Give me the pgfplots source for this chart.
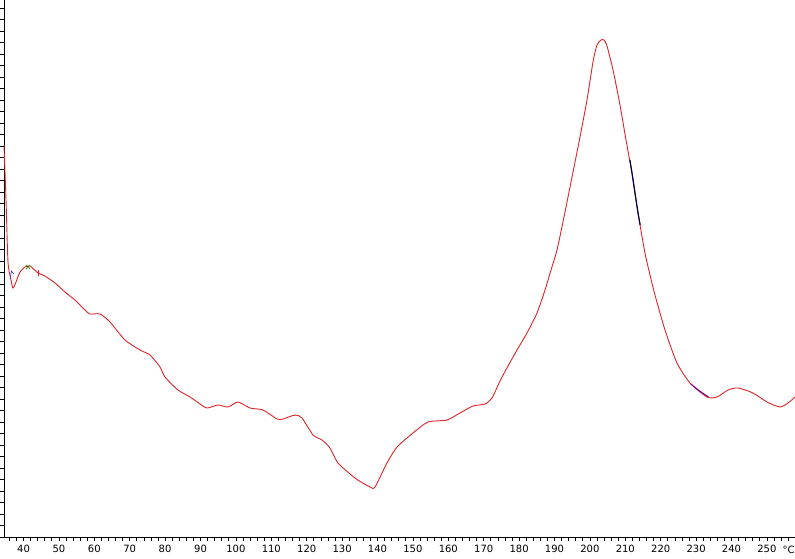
\documentclass[border=0pt]{standalone}
\usepackage{pgfplots}
\pgfplotsset{compat=1.18}
\usepackage{fontspec}
\setmainfont{DejaVu Sans}
\definecolor{curvered}{RGB}{225,35,40}
\begin{document}
\begin{tikzpicture}
\begin{axis}[
  scale only axis,
  width=791pt, height=537pt,
  xmin=34.49, xmax=257.94,
  ymin=0, ymax=537,
  axis x line=bottom, axis y line=left,
  axis line style={-, black, line width=0.8pt},
  xtick distance=10, minor x tick num=4,
  ytick distance=11.5, yticklabels={},
  tick align=outside,
  major tick length=4pt, minor tick length=4pt,
  tick style={black, line width=0.7pt},
  every tick/.style={black, line width=0.7pt},
  /pgf/number format/assume math mode=true,
  xticklabel style={font=\fontsize{10}{12}\selectfont, yshift=-0.5pt},
  clip=false,
]
\addplot[curvered, line width=0.9pt, smooth, tension=0.4] coordinates {
(34.49,392) (35.06,337) (35.62,275) (36.47,257) (37.03,249) (37.88,255) (39.01,265)
(40.42,270) (41.84,271) (44.10,264) (46.07,261) (48.90,254) (51.72,245) (54.55,237)
(57.37,227) (58.79,223) (61.61,223) (64.43,215) (68.67,197) (72.91,187) (75.73,182)
(78.56,170) (79.97,160) (83.64,147) (87.03,140) (89.86,133) (91.84,129) (94.94,132)
(97.77,130) (100.59,135) (103.98,129) (107.65,127) (111.61,118) (113.31,118) (116.70,122)
(118.67,119) (121.79,102) (124.32,97) (126.58,89) (128.84,74) (133.64,59) (137.88,50)
(139.29,50) (142.68,74) (145.51,90) (150.03,104) (154.27,115) (159.63,117) (163.31,124)
(166.98,131) (170.37,133) (172.35,139) (174.61,156) (176.87,171) (179.41,187) (182.23,204)
(185.06,224) (187.32,247) (189.01,267) (190.71,287) (192.97,325) (195.23,365) (197.20,400)
(199.18,437) (200.87,475) (202.00,492) (203.14,497) (203.98,497) (204.83,491) (206.53,467)
(208.50,432) (210.20,397) (211.89,364) (213.59,324) (215.56,284) (216.98,262) (218.39,242)
(221.21,207) (224.60,174) (228.28,154) (233.08,140) (235.90,140) (239.01,147) (241.84,149)
(246.07,144) (250.03,135) (253.70,130) (255.96,134) (257.94,140)
};
% small coloured marker artefacts of the original instrument software
\addplot[green!50!black!80!orange, only marks, mark=x, mark size=3pt, line width=0.6pt] coordinates {(41.3,270)};
\addplot[blue!80!white, line width=0.6pt] coordinates {(36.2,258) (36.6,266) (37.2,263)};
\addplot[black!70!blue, line width=1.2pt] coordinates {(211.3,377) (211.89,364) (213.59,324) (214.2,312)};
\addplot[violet, line width=1.0pt] coordinates {(228.5,153) (231.0,146) (233.5,140)};
\addplot[curvered, only marks, mark=|, mark size=3pt, line width=0.7pt] coordinates {(44.1,264)};
\node[anchor=west, font=\fontsize{10}{12}\selectfont] at ([xshift=-16pt, yshift=-13pt]rel axis cs:1,0) {°C};
\end{axis}
\pgfresetboundingbox
\path (current axis.south west) ++(-4pt,-21pt) rectangle (current axis.north east);
\end{tikzpicture}
\end{document}
